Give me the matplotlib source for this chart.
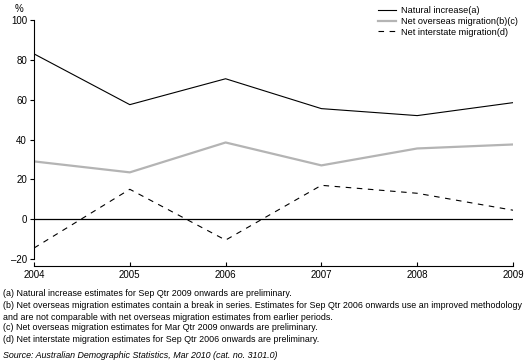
import matplotlib.pyplot as plt

plt.rcParams['font.family'] = ['Liberation Sans', 'DejaVu Sans']

years = [2004, 2005, 2006, 2007, 2008, 2009]
natural = [83, 57.5, 70.5, 55.5, 52, 58.5]
overseas = [29, 23.5, 38.5, 27, 35.5, 37.5]
interstate = [-14.5, 15, -10.5, 17, 13, 4.5]

notes = [
    "(a) Natural increase estimates for Sep Qtr 2009 onwards are preliminary.",
    "(b) Net overseas migration estimates contain a break in series. Estimates for Sep Qtr 2006 onwards use an improved methodology",
    "and are not comparable with net overseas migration estimates from earlier periods.",
    "(c) Net overseas migration estimates for Mar Qtr 2009 onwards are preliminary.",
    "(d) Net interstate migration estimates for Sep Qtr 2006 onwards are preliminary.",
]
source = "Source: Australian Demographic Statistics, Mar 2010 (cat. no. 3101.0)"

fig = plt.figure(figsize=(5.29, 3.63), dpi=100)
ax = fig.add_axes([34/529, 1-259/363, (513-34)/529, (259-20)/363])

ax.plot(years, natural, color='black', lw=0.8, label='Natural increase(a)')
ax.plot(years, overseas, color='#b4b4b4', lw=1.6, label='Net overseas migration(b)(c)')
ax.plot(years, interstate, color='black', lw=0.8, ls=(0, (5, 5)), label='Net interstate migration(d)')
ax.axhline(0, color='black', lw=0.9)

ax.set_xlim(2004, 2009)
ax.set_ylim(-20, 100)
ax.set_xticks(years)
ax.set_yticks(range(-20, 101, 20))
ax.set_yticklabels(['\u201320', '0', '20', '40', '60', '80', '100'])

for s in ['top', 'right']:
    ax.spines[s].set_visible(False)
ax.spines['bottom'].set_position(('outward', 5))
ax.spines['left'].set_linewidth(0.8)
ax.spines['bottom'].set_linewidth(0.8)
ax.tick_params(axis='x', direction='in', length=3, width=0.8, labelsize=7, pad=3)
ax.tick_params(axis='y', direction='out', length=3, width=0.8, labelsize=7, pad=2)

fig.text(15/529, 1-9/363, '%', fontsize=7, ha='left', va='center')

ax.legend(loc='upper left', bbox_to_anchor=(378/529, 1-6/363), bbox_transform=fig.transFigure,
          frameon=False, fontsize=6.6, handlelength=2.0, handletextpad=0.5, labelspacing=0.2,
          borderaxespad=0, borderpad=0)

ys = [293, 305, 317, 328, 340]
for t, y in zip(notes, ys):
    fig.text(3/529, 1-y/363, t, fontsize=6.4, ha='left', va='center')
fig.text(3/529, 1-355/363, source, fontsize=6.4, ha='left', va='center', style='italic')

fig.savefig('out.png', dpi=100)
